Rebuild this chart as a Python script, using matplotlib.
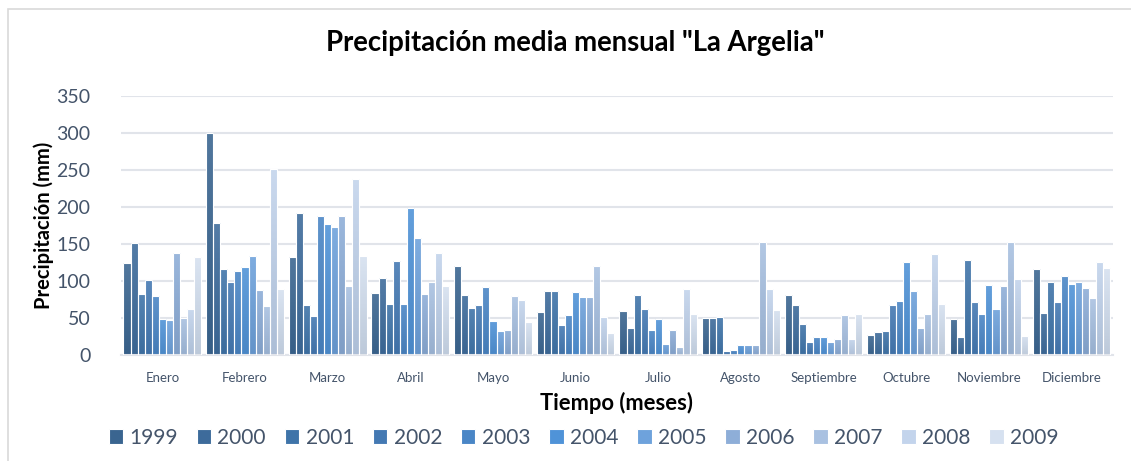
import numpy as np
import matplotlib
matplotlib.use('Agg')
import matplotlib.pyplot as plt
from matplotlib.colors import to_rgb
from matplotlib.patches import Rectangle

plt.rcParams['font.family'] = ['Lato', 'DejaVu Sans']

months = ['Enero', 'Febrero', 'Marzo', 'Abril', 'Mayo', 'Junio', 'Julio',
          'Agosto', 'Septiembre', 'Octubre', 'Noviembre', 'Diciembre']
years = ['1999', '2000', '2001', '2002', '2003', '2004', '2005', '2006', '2007', '2008', '2009']

# rows = months, columns = years
enero      = [124, 151, 83, 101, 80, 48, 47, 138, 50, 62, 132]
febrero    = [300, 178, 116, 99, 114, 119, 134, 88, 66, 251, 89]
marzo      = [132, 192, 68, 53, 188, 177, 173, 188, 93, 238, 134]
abril      = [84, 104, 69, 127, 69, 199, 158, 83, 99, 138, 93]
mayo       = [120, 81, 64, 68, 92, 46, 33, 34, 80, 75, 44]
junio      = [58, 87, 87, 40, 54, 85, 79, 79, 120, 52, 30]
julio      = [60, 37, 81, 62, 34, 48, 15, 34, 11, 89, 56]
agosto     = [50, 50, 52, 6, 7, 13, 14, 13, 153, 89, 61]
septiembre = [81, 68, 42, 18, 25, 25, 18, 22, 54, 21, 56]
octubre    = [27, 31, 33, 68, 73, 126, 87, 37, 56, 137, 69]
noviembre  = [48, 25, 128, 72, 56, 95, 62, 93, 153, 103, 26]
diciembre  = [116, 57, 99, 71, 107, 96, 99, 91, 77, 126, 118]

data = np.array([enero, febrero, marzo, abril, mayo, junio, julio,
                 agosto, septiembre, octubre, noviembre, diciembre])

colors = ['#3A6590', '#3D6B9B', '#3F74A9', '#4479B3', '#4A86C6', '#4F93D8',
          '#6EA2DC', '#8EAED8', '#A9C1E1', '#C3D4EC', '#D6E1F0']

fig = plt.figure(figsize=(11.31, 4.61), dpi=100)
ax = fig.add_axes([0.107, 0.2299, 0.877, 0.5619])

n = len(years)
x = np.arange(len(months))
group_w = 0.94
w = group_w / n

def mix(c, other, t):
    a = np.array(to_rgb(c)); b = np.array(to_rgb(other))
    return a * (1 - t) + b * t

for i, yr in enumerate(years):
    pos = x - group_w / 2 + w * (i + 0.5)
    top = mix(colors[i], 'white', 0.12)
    bot = mix(colors[i], '#1E3550', 0.14)
    bars = ax.bar(pos, data[:, i], width=w, color=colors[i], edgecolor='white',
                  linewidth=0.8, label=yr, zorder=2)
    # vertical gradient fill, clipped to each bar
    grad = np.linspace(0, 1, 64)[:, None, None]
    img = top[None, None, :] * (1 - grad) + bot[None, None, :] * grad
    for b in bars:
        x0, y0 = b.get_x(), b.get_y()
        bw, bh = b.get_width(), b.get_height()
        im = ax.imshow(img, extent=[x0 - 0.01, x0 + bw + 0.01, y0 - 2, y0 + bh + 2],
                       aspect='auto', interpolation='bilinear', zorder=2.5)
        im.set_clip_path(b)
        ax.add_patch(Rectangle((x0, y0), bw, bh, fill=False, edgecolor='white',
                               linewidth=0.8, zorder=3))

ax.set_xlim(-0.5, len(months) - 0.5)
ax.set_ylim(0, 350)
ax.set_yticks(np.arange(0, 351, 50))
ax.set_xticks(x)
ax.set_xticklabels(months, fontsize=9.5, color='#44546A')
ax.tick_params(axis='y', labelsize=14, colors='#44546A', length=0, pad=22)
ax.tick_params(axis='x', length=0, pad=12)
ax.grid(axis='y', color='#E1E4EA', linewidth=1.5, zorder=0)
ax.set_axisbelow(True)
for s in ['top', 'right', 'left']:
    ax.spines[s].set_visible(False)
ax.spines['bottom'].set_color('#E1E4EA')
ax.spines['bottom'].set_linewidth(1.5)

fig.suptitle('Precipitación media mensual "La Argelia"', x=0.509, y=0.935,
             fontsize=19.8, fontweight='bold', color='black')
ax.set_ylabel('Precipitación (mm)', fontsize=14.5, fontweight='bold', labelpad=2)
ax.set_xlabel('Tiempo (meses)', fontsize=15.8, fontweight='bold', labelpad=6)

handles, labels = ax.get_legend_handles_labels()
leg = fig.legend(handles, labels, loc='center', bbox_to_anchor=(0.516, 0.05),
                 ncol=n, frameon=False, fontsize=15, handlelength=0.7,
                 handleheight=0.7, handletextpad=0.3, columnspacing=0.9)
for t in leg.get_texts():
    t.set_color('#44546A')

# outer chart border
fig.patches.append(Rectangle((8 / 1131, -0.1), 1.2, 1 - 9 / 461 + 0.1,
                             transform=fig.transFigure, fill=False,
                             edgecolor='#D9D9D9', linewidth=1.2))

fig.savefig('out.png', dpi=100)
